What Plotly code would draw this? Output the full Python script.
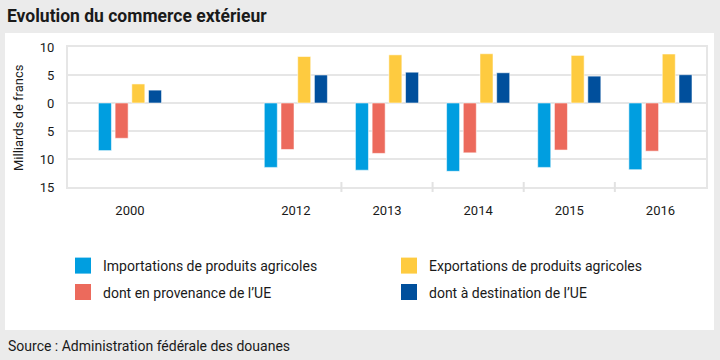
import plotly.graph_objects as go

# ---- data (milliards de francs) ----
years = ["2000", "2012", "2013", "2014", "2015", "2016"]
importations = [-8.5, -11.5, -12.0, -12.2, -11.5, -11.9]
importations_ue = [-6.3, -8.3, -9.0, -8.9, -8.4, -8.6]
exportations = [3.4, 8.3, 8.6, 8.8, 8.5, 8.75]
exportations_ue = [2.3, 5.0, 5.5, 5.4, 4.8, 5.05]

series_names = [
    "Importations de produits agricoles",
    "dont en provenance de l\u2019UE",
    "Exportations de produits agricoles",
    "dont \u00e0 destination de l\u2019UE",
]
y_tickvals = [-15, -10, -5, 0, 5, 10]
y_ticktext = ["15", "10", "5", "0", "5", "10"]

# ---- layout helpers ----
x_pos = [-1.82, 0, 1, 2, 3, 4]          # horizontal slot of each year group
colors = ["#009ee0", "#ec6a5c", "#fecb40", "#004f9c"]
W, H = 720, 360
L, R, T, B = 68, 14, 47, 173
PW, PH = W - L - R, H - T - B


def px_x(px):
    return (px - L) / PW


def px_y(py):
    return (H - B - py) / PH


FONT = "Roboto, 'Noto Sans', sans-serif"
TXT = "#1a1a1a"

fig = go.Figure()
values = [importations, importations_ue, exportations, exportations_ue]
for name, vals, col in zip(series_names, values, colors):
    fig.add_trace(go.Bar(
        x=x_pos, y=vals, name=name, showlegend=False,
        marker=dict(color=col, line=dict(color="rgba(255,255,255,0.55)", width=1)),
        hoverinfo="skip",
    ))

# legend entries (one legend per entry to place them in a 2x2 grid)
legend_slots = [
    ("legend", px_x(63), px_y(266)),
    ("legend3", px_x(63), px_y(292.5)),
    ("legend2", px_x(389), px_y(266)),
    ("legend4", px_x(389), px_y(292.5)),
]
for (lg, _, _), name, col in zip(legend_slots, series_names, colors):
    fig.add_trace(go.Scatter(
        x=[None], y=[None], mode="markers", name=name, legend=lg,
        marker=dict(symbol="square", size=16, color=col),
    ))

legend_cfg = {}
for lg, lx, ly in legend_slots:
    legend_cfg[lg] = dict(
        x=lx, y=ly, xanchor="left", yanchor="middle",
        bgcolor="rgba(0,0,0,0)", borderwidth=0,
        font=dict(family=FONT, size=14, color=TXT),
    )

shapes = [
    # white panel
    dict(type="rect", xref="paper", yref="paper", layer="below",
         x0=px_x(5), x1=px_x(714), y0=px_y(330), y1=px_y(33),
         fillcolor="white", line=dict(width=0)),
]
# category divider ticks on the x axis
for xv in [0.5, 1.5, 2.5, 3.5]:
    shapes.append(dict(type="line", xref="x", yref="paper",
                       x0=xv, x1=xv, y0=-5 / PH, y1=5 / PH,
                       line=dict(color="#e2e2e2", width=2)))

fig.update_layout(
    width=W, height=H, autosize=False,
    margin=dict(l=L, r=R, t=T, b=B),
    paper_bgcolor="#ebebeb", plot_bgcolor="white",
    barmode="group", bargap=0.267, bargroupgap=0.22,
    font=dict(family=FONT, color=TXT, size=13),
    title=dict(text="<b>Evolution du commerce ext\u00e9rieur</b>",
               x=7 / W, xref="container", xanchor="left",
               y=1 - 16 / H, yref="container", yanchor="middle",
               font=dict(family=FONT, size=17.5, color=TXT)),
    xaxis=dict(range=[-2.5, 4.5], tickmode="array", tickvals=x_pos,
               ticktext=years, showgrid=False, zeroline=False,
               showline=True, mirror=True, linecolor="#e6e6e6", linewidth=2,
               ticks="", ticklabelstandoff=10,
               tickfont=dict(family=FONT, size=13, color=TXT)),
    yaxis=dict(range=[-15, 10], tickmode="array", tickvals=y_tickvals,
               ticktext=y_ticktext, showgrid=True, gridcolor="#e6e6e6",
               gridwidth=2, zeroline=False,
               showline=True, mirror=True, linecolor="#e6e6e6", linewidth=2,
               ticks="", ticklabelstandoff=9,
               tickfont=dict(family=FONT, size=13, color=TXT)),
    shapes=shapes,
    annotations=[
        dict(text="Milliards de francs", textangle=-90, xref="paper", yref="paper",
             x=px_x(18), y=0.5, xanchor="center", yanchor="middle",
             showarrow=False, font=dict(family=FONT, size=13, color=TXT)),
        dict(text="Source : Administration f\u00e9d\u00e9rale des douanes",
             xref="paper", yref="paper", x=px_x(6), y=px_y(346),
             xanchor="left", yanchor="middle", showarrow=False,
             font=dict(family=FONT, size=14, color=TXT)),
    ],
    **legend_cfg,
)

fig.write_html(
    "out.html",
    config={"displayModeBar": False, "staticPlot": True},
    post_script="document.body.style.margin='0';document.body.style.overflow='hidden';",
)
